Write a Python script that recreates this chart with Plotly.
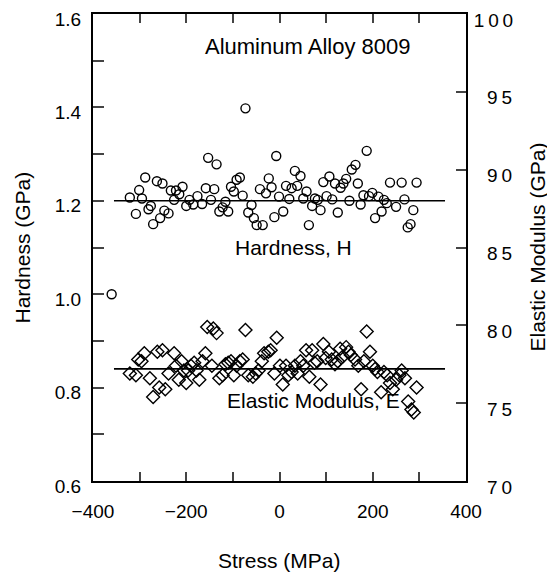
import plotly.graph_objects as go

# Hardness data (stress MPa, hardness GPa)
stress_H = [-321, -360, -308, -301, -295, -288, -281, -276, -271, -263, -256, -251, -247, -238, -233,
            -226, -222, -215, -208, -200, -193, -185, -176, -166, -158, -153, -147, -140, -135, -129,
            -122, -116, -110, -104, -98, -92, -85, -79, -73, -67, -60, -55, -49, -42, -36, -29, -23,
            -17, -11, -7, -1, 8, 14, 21, 26, 33, 38, 45, 51, 58, 63, 70, 76, 82, 88, 94, 101, 107,
            113, 119, 125, 131, 137, 143, 150, 155, 163, 168, 174, 180, 187, 192, 199, 205, 212, 219,
            224, 230, 237, 250, 262, 268, 275, 281, 287, 294]
hardness = [1.207, 1.000, 1.172, 1.223, 1.205, 1.250, 1.182, 1.189, 1.150, 1.242, 1.163, 1.237, 1.179,
            1.173, 1.222, 1.202, 1.222, 1.214, 1.230, 1.189, 1.202, 1.192, 1.210, 1.193, 1.227, 1.292,
            1.202, 1.225, 1.278, 1.177, 1.186, 1.198, 1.177, 1.230, 1.220, 1.245, 1.250, 1.211, 1.398,
            1.175, 1.191, 1.163, 1.148, 1.225, 1.148, 1.216, 1.248, 1.229, 1.165, 1.296, 1.209, 1.177,
            1.232, 1.204, 1.227, 1.264, 1.232, 1.253, 1.205, 1.220, 1.148, 1.189, 1.205, 1.202, 1.180,
            1.240, 1.210, 1.252, 1.203, 1.237, 1.175, 1.228, 1.237, 1.247, 1.200, 1.267, 1.277, 1.237,
            1.192, 1.212, 1.307, 1.210, 1.217, 1.163, 1.209, 1.177, 1.202, 1.195, 1.239, 1.187, 1.239,
            1.203, 1.143, 1.150, 1.180, 1.239]

# Elastic modulus data (stress MPa, modulus GPa)
stress_E = [-321, -308, -303, -296, -290, -278, -271, -262, -258, -251, -245, -238, -226, -222, -216,
            -210, -205, -200, -196, -190, -183, -178, -172, -165, -159, -155, -145, -142, -135, -129,
            -122, -116, -110, -104, -98, -92, -85, -79, -73, -67, -57, -51, -45, -38, -33, -24, -19,
            -11, -6, 1, 7, 14, 19, 26, 33, 39, 45, 51, 57, 64, 70, 75, 81, 88, 94, 99, 106, 112, 119,
            125, 130, 136, 143, 148, 153, 162, 169, 175, 181, 187, 194, 200, 205, 210, 218, 224, 231,
            237, 243, 250, 257, 262, 269, 276, 283, 288, 294]
modulus = [76.9, 76.8, 77.8, 77.7, 78.2, 76.6, 75.4, 78.3, 76.0, 78.4, 75.9, 76.9, 78.2, 77.4, 76.5,
           77.7, 77.1, 76.3, 77.1, 77.4, 77.6, 77.1, 76.5, 77.7, 78.2, 79.9, 77.4, 79.8, 79.5, 76.6,
           76.8, 77.5, 77.6, 77.7, 76.8, 77.4, 77.7, 77.8, 79.7, 76.8, 76.7, 76.9, 77.1, 77.7, 78.2,
           78.3, 78.4, 76.9, 79.2, 77.4, 76.2, 77.4, 76.8, 77.0, 77.4, 76.9, 77.7, 77.4, 78.4, 76.7,
           78.4, 77.6, 77.7, 76.2, 78.8, 77.9, 78.3, 77.8, 77.5, 77.7, 78.5, 78.0, 78.6, 78.3, 78.1,
           77.8, 77.4, 75.9, 77.7, 79.6, 78.3, 77.4, 77.2, 77.0, 75.7, 77.0, 76.8, 76.3, 75.9, 76.5,
           76.8, 77.1, 76.6, 75.1, 74.6, 74.4, 76.0]

# Mean lines
line_x = [-355, 355]
mean_H = [1.2, 1.2]
mean_E = [77.2, 77.2]

# Axis ticks
x_ticks = [-400, -200, 0, 200, 400]
h_ticks = [0.6, 0.8, 1.0, 1.2, 1.4, 1.6]
h_ticklabels = ["0.6", "0.8", "1.0", "1.2", "1.4", "1.6"]
e_ticks = [70, 75, 80, 85, 90, 95, 100]
e_ticklabels = ["\u2002\u20097\u20090", "\u2002\u20097\u20095", "\u2002\u20098\u20090",
                "\u2002\u20098\u20095", "\u2002\u20099\u20090", "\u2002\u20099\u20095",
                "1\u20090\u20090"]

FONT = "Liberation Sans, Arial, Helvetica, sans-serif"
# page has an 8px body margin; figure sized/placed to compensate
W, H = 547, 570
L, R, T, B = 85, 89, 6, 97
PW, PH = W - L - R, H - T - B
FL, FB = 93, 481  # frame left / bottom in page pixels

fig = go.Figure()
fig.add_trace(go.Scatter(x=stress_H, y=hardness, mode="markers", name="Hardness",
                         marker=dict(symbol="circle-open", size=9, color="black", line=dict(width=1.4)),
                         yaxis="y"))
fig.add_trace(go.Scatter(x=line_x, y=mean_H, mode="lines", line=dict(color="black", width=1.6),
                         yaxis="y", showlegend=False))
fig.add_trace(go.Scatter(x=stress_E, y=modulus, mode="markers", name="Elastic Modulus",
                         marker=dict(symbol="diamond-open", size=10, color="black", line=dict(width=1.4)),
                         yaxis="y2"))
fig.add_trace(go.Scatter(x=line_x, y=mean_E, mode="lines", line=dict(color="black", width=1.6),
                         yaxis="y2", showlegend=False))

fig.update_layout(
    width=W, height=H,
    margin=dict(l=L, r=R, t=T, b=B),
    paper_bgcolor="white", plot_bgcolor="white",
    showlegend=False,
    font=dict(family=FONT, color="black", size=19),
    xaxis=dict(range=[-400, 400], tickvals=x_ticks, ticks="inside", ticklen=9, tickwidth=1.5,
               showline=True, linecolor="black", linewidth=2, mirror="ticks", showgrid=False,
               zeroline=False, tickfont=dict(size=19), automargin=False, ticklabelstandoff=12,
               ticklabeloverflow="allow",
               minor=dict(dtick=100, ticks="inside", ticklen=9, tickwidth=1.5)),
    yaxis=dict(range=[0.6, 1.6], tickvals=h_ticks, ticktext=h_ticklabels, ticks="inside", ticklen=11,
               tickwidth=1.5, showline=True, linecolor="black", linewidth=2, showgrid=False,
               zeroline=False, tickfont=dict(size=19), automargin=False, ticklabelstandoff=6,
               ticklabeloverflow="allow", ticklabelshift=5,
               minor=dict(dtick=0.1, tick0=0.6, ticks="inside", ticklen=11, tickwidth=1.5)),
    yaxis2=dict(range=[70, 100], tickvals=e_ticks, ticktext=e_ticklabels, overlaying="y", side="right",
                ticks="inside", ticklen=10, tickwidth=1.5, showline=True, linecolor="black", linewidth=2,
                showgrid=False, zeroline=False, tickfont=dict(size=19), ticklabelshift=6,
                automargin=False, ticklabelstandoff=2, ticklabeloverflow="allow"),
    annotations=[
        dict(text="Stress (MPa)", xref="paper", yref="paper", x=(279 - FL) / PW,
             y=-(560 - FB) / PH, xanchor="center", yanchor="middle",
             showarrow=False, font=dict(size=21)),
        dict(text="Hardness (GPa)", xref="paper", yref="paper", x=(22 - FL) / PW, y=0.5,
             xanchor="center", yanchor="middle",
             textangle=-90, showarrow=False, font=dict(size=21)),
        dict(text="Elastic Modulus (GPa)", xref="paper", yref="paper", x=(537 - FL) / PW, y=0.5,
             xanchor="center", yanchor="middle",
             textangle=-90, showarrow=False, font=dict(size=21)),
        dict(text="Aluminum Alloy 8009", x=60, y=1.53, xref="x", yref="y", showarrow=False,
             xanchor="center", yanchor="middle", font=dict(size=22)),
        dict(text="Hardness, H", x=31, y=1.1, xref="x", yref="y", showarrow=False,
             xanchor="center", yanchor="middle", font=dict(size=21)),
        dict(text="Elastic Modulus, E", x=72, y=0.773, xref="x", yref="y", showarrow=False,
             xanchor="center", yanchor="middle", font=dict(size=21)),
    ],
)

fig.write_html("out.html")
